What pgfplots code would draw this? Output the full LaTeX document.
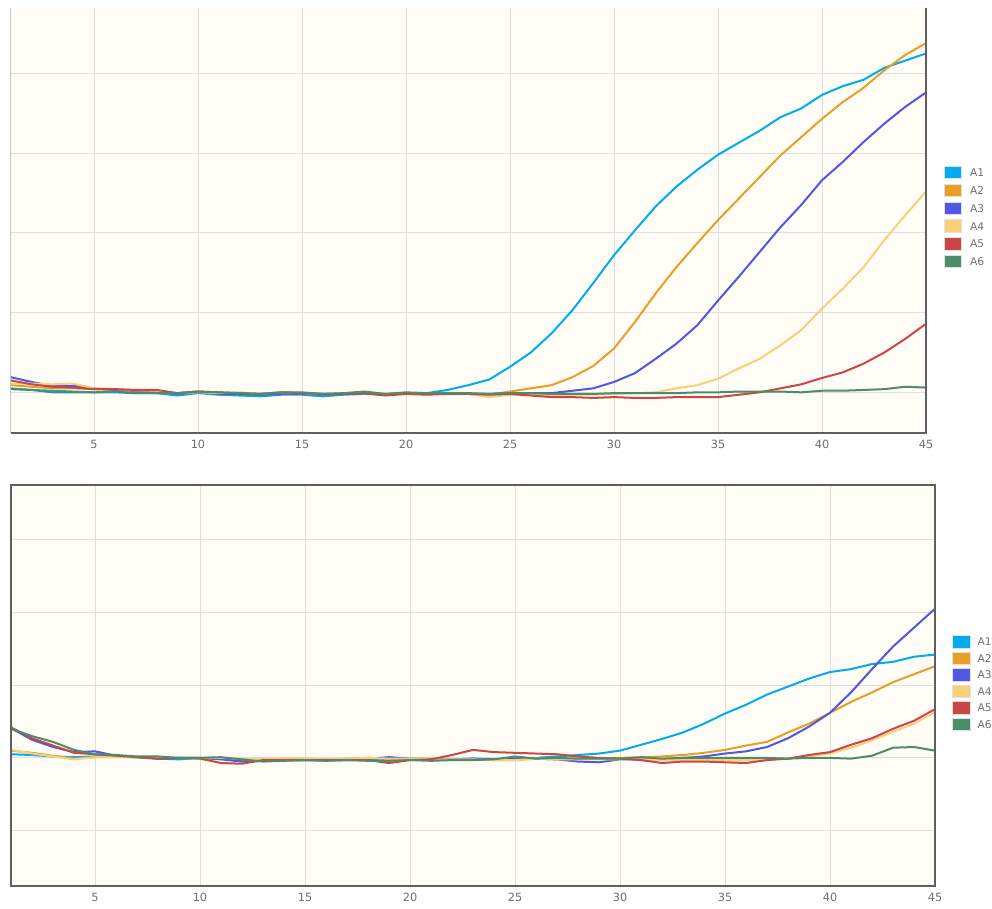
\documentclass[border=0pt]{standalone}
\usepackage{pgfplots}
\usepackage{pgfplotstable}
\pgfplotsset{compat=1.18}
\usepackage{fontspec}
\setmainfont{DejaVu Sans}
\definecolor{cA}{RGB}{0,172,238}
\definecolor{cB}{RGB}{234,158,38}
\definecolor{cC}{RGB}{78,88,226}
\definecolor{cD}{RGB}{251,206,120}
\definecolor{cE}{RGB}{202,70,72}
\definecolor{cF}{RGB}{76,140,102}
\definecolor{bgc}{RGB}{255,253,246}
\definecolor{gridc}{RGB}{222,222,222}
\definecolor{framec}{RGB}{95,95,95}
\definecolor{tickc}{RGB}{110,110,110}
\definecolor{legb}{RGB}{225,225,225}

\pgfplotstableread{
x A1 A2 A3 A4 A5 A6
1 0.05 0.09 0.19 0.11 0.15 0.04
2 0.03 0.07 0.13 0.11 0.10 0.03
3 0.02 0.05 0.08 0.10 0.07 0.00
4 0.01 0.05 0.08 0.11 0.06 0.00
5 0.00 0.04 0.05 0.05 0.04 0.00
6 0.00 0.03 0.03 0.04 0.04 0.01
7 -0.01 0.02 0.02 0.03 0.03 -0.01
8 -0.01 0.02 0.02 0.02 0.03 -0.01
9 -0.04 -0.01 -0.02 -0.01 -0.01 -0.01
10 -0.01 0.01 0.00 0.00 0.01 0.01
11 -0.03 -0.01 -0.02 -0.01 0.00 0.00
12 -0.04 -0.01 -0.02 0.00 -0.01 -0.01
13 -0.05 -0.02 -0.03 -0.02 -0.02 -0.02
14 -0.03 -0.01 -0.02 0.00 0.00 0.00
15 -0.03 -0.01 -0.02 -0.01 -0.01 0.00
16 -0.05 -0.02 -0.03 -0.02 -0.02 -0.02
17 -0.03 -0.02 -0.02 -0.01 -0.02 -0.01
18 -0.02 0.00 -0.01 0.00 -0.01 0.01
19 -0.03 -0.02 -0.03 -0.02 -0.04 -0.02
20 -0.01 -0.01 -0.01 -0.01 -0.02 0.00
21 -0.01 -0.01 -0.02 -0.02 -0.03 -0.01
22 0.03 -0.01 -0.01 -0.01 -0.02 -0.01
23 0.09 -0.02 -0.02 -0.02 -0.02 -0.01
24 0.16 -0.03 -0.02 -0.06 -0.03 -0.02
25 0.32 0.01 -0.01 -0.03 -0.02 -0.01
26 0.50 0.05 -0.01 -0.03 -0.04 -0.01
27 0.74 0.09 -0.01 -0.04 -0.06 -0.02
28 1.03 0.19 0.02 -0.03 -0.06 -0.02
29 1.37 0.33 0.05 -0.03 -0.07 -0.02
30 1.72 0.55 0.13 -0.02 -0.06 -0.01
31 2.03 0.88 0.24 -0.01 -0.07 -0.01
32 2.33 1.24 0.42 0.00 -0.07 -0.01
33 2.58 1.57 0.61 0.05 -0.06 -0.01
34 2.79 1.87 0.84 0.09 -0.06 0.00
35 2.98 2.16 1.15 0.17 -0.06 0.00
36 3.13 2.43 1.45 0.30 -0.03 0.01
37 3.28 2.70 1.76 0.42 0.00 0.01
38 3.45 2.97 2.07 0.59 0.05 0.01
39 3.56 3.20 2.35 0.78 0.10 0.00
40 3.73 3.43 2.66 1.05 0.18 0.02
41 3.84 3.64 2.89 1.30 0.25 0.02
42 3.92 3.82 3.14 1.57 0.36 0.03
43 4.07 4.04 3.37 1.91 0.50 0.04
44 4.16 4.23 3.58 2.22 0.67 0.07
45 4.25 4.38 3.76 2.52 0.86 0.06
}\topdata

\pgfplotstableread{
x A1 A2 A3 A4 A5 A6
1 0.05 0.10 0.41 0.11 0.42 0.40
2 0.04 0.07 0.25 0.06 0.27 0.30
3 0.02 0.03 0.15 0.02 0.17 0.22
4 0.01 -0.01 0.08 -0.02 0.07 0.11
5 0.02 0.01 0.09 0.01 0.05 0.05
6 0.02 0.01 0.03 0.01 0.03 0.04
7 0.01 0.01 0.01 0.01 0.01 0.02
8 -0.01 0.00 -0.01 0.00 -0.01 0.02
9 -0.02 0.00 0.00 0.00 0.00 0.00
10 0.00 0.00 0.00 0.00 -0.01 0.00
11 0.00 0.00 -0.02 0.00 -0.07 0.01
12 -0.03 -0.02 -0.05 -0.01 -0.08 -0.02
13 -0.04 -0.02 -0.04 -0.02 -0.03 -0.05
14 -0.03 -0.01 -0.03 -0.01 -0.03 -0.04
15 -0.03 -0.01 -0.03 -0.01 -0.03 -0.03
16 -0.03 -0.02 -0.03 -0.02 -0.03 -0.04
17 -0.03 -0.01 -0.02 -0.01 -0.03 -0.03
18 -0.02 0.00 -0.01 0.00 -0.03 -0.04
19 -0.02 -0.01 0.01 -0.01 -0.07 -0.04
20 -0.02 -0.01 -0.01 -0.01 -0.03 -0.03
21 -0.02 -0.01 -0.02 -0.02 -0.02 -0.04
22 -0.02 -0.02 -0.02 -0.02 0.04 -0.03
23 -0.01 -0.02 -0.01 -0.02 0.11 -0.03
24 -0.02 -0.03 -0.02 -0.03 0.08 -0.02
25 -0.01 -0.03 -0.01 -0.03 0.07 0.02
26 0.00 -0.01 -0.01 -0.01 0.06 -0.01
27 0.02 -0.02 -0.02 -0.02 0.05 0.00
28 0.04 -0.02 -0.05 -0.02 0.02 -0.01
29 0.06 -0.01 -0.06 -0.02 0.00 -0.01
30 0.10 0.00 -0.02 -0.02 -0.01 -0.01
31 0.18 0.01 -0.02 -0.02 -0.03 0.01
32 0.26 0.02 -0.02 -0.03 -0.07 -0.01
33 0.35 0.04 0.00 -0.03 -0.05 0.00
34 0.47 0.07 0.02 -0.03 -0.05 0.00
35 0.61 0.11 0.06 -0.03 -0.06 0.00
36 0.73 0.17 0.09 -0.03 -0.07 0.00
37 0.87 0.22 0.15 -0.02 -0.03 0.00
38 0.98 0.35 0.27 -0.01 -0.01 -0.01
39 1.09 0.47 0.43 0.02 0.04 0.00
40 1.18 0.62 0.62 0.06 0.08 0.00
41 1.22 0.77 0.90 0.14 0.18 -0.01
42 1.29 0.90 1.22 0.24 0.27 0.03
43 1.32 1.04 1.53 0.36 0.40 0.14
44 1.39 1.15 1.79 0.47 0.51 0.15
45 1.42 1.26 2.05 0.63 0.67 0.10
}\botdata

\pgfplotsset{
 rt/.style={
  scale only axis, xmin=1, xmax=45, xtick={5,10,...,45},
  major tick length=0pt,
  xmajorgrids, ymajorgrids,
  grid style={line width=0.7pt, draw=gridc},
  axis background/.style={fill=bgc},
  axis line style={draw=none},
  ticklabel style={font=\fontsize{8.5}{10}\selectfont, text=tickc},
  xticklabel style={yshift=-2pt},
  /pgf/number format/assume math mode=true,
  yticklabels={},
  legend cell align=left,
  legend image code/.code={\draw[##1, fill, draw=legb, line width=0.6pt] (0pt,-4.6pt) rectangle (13.2pt,4.6pt);},
  every axis plot/.append style={line width=1.5pt, line join=round, mark=none},
  clip=true,
 }
}

\begin{document}
\begin{tikzpicture}
\path[use as bounding box] (0,0) rectangle (744pt,681pt);
% top panel
\begin{axis}[rt,
  at={(8.1pt,356.25pt)}, anchor=south west,
  width=686.4pt, height=318.75pt,
  ymin=-0.51, ymax=4.82, ytick={0,1,2,3,4},
  legend style={at={(axis description cs:1,0.508)}, anchor=west, xshift=13pt,
    draw=none, fill=none, inner sep=0pt, row sep=3.6pt,
    font=\fontsize{8}{9}\selectfont, text=tickc,
    nodes={inner sep=0pt, text height=6pt, text depth=0pt},
    /tikz/every odd column/.style={column sep=6pt}},
  legend entries={A1,A2,A3,A4,A5,A6},
  after end axis/.code={
    \draw[gridc!70!black!60, line width=0.8pt] (rel axis cs:0,0) -- (rel axis cs:0,1);
    \draw[framec, line width=1.5pt] (rel axis cs:0,0) -- (rel axis cs:1,0) -- (rel axis cs:1,1);
  }
]
\addplot[color=cA] table[x=x,y=A1] {\topdata};
\addplot[color=cB] table[x=x,y=A2] {\topdata};
\addplot[color=cC] table[x=x,y=A3] {\topdata};
\addplot[color=cD] table[x=x,y=A4] {\topdata};
\addplot[color=cE] table[x=x,y=A5] {\topdata};
\addplot[color=cF] table[x=x,y=A6] {\topdata};
\end{axis}
% bottom panel
\begin{axis}[rt,
  at={(8.25pt,16.5pt)}, anchor=south west,
  width=693pt, height=300.75pt,
  ymin=-1.76, ymax=3.75, ytick={-1,0,1,2,3},
  legend style={at={(axis description cs:1,0.506)}, anchor=west, xshift=12.5pt,
    draw=none, fill=none, inner sep=0pt, row sep=2.6pt,
    font=\fontsize{8}{9}\selectfont, text=tickc,
    nodes={inner sep=0pt, text height=6pt, text depth=0pt},
    /tikz/every odd column/.style={column sep=5.5pt}},
  legend entries={A1,A2,A3,A4,A5,A6},
  after end axis/.code={
    \draw[framec, line width=1.5pt] (rel axis cs:0,0) rectangle (rel axis cs:1,1);
  }
]
\addplot[color=cA] table[x=x,y=A1] {\botdata};
\addplot[color=cB] table[x=x,y=A2] {\botdata};
\addplot[color=cC] table[x=x,y=A3] {\botdata};
\addplot[color=cD] table[x=x,y=A4] {\botdata};
\addplot[color=cE] table[x=x,y=A5] {\botdata};
\addplot[color=cF] table[x=x,y=A6] {\botdata};
\end{axis}
\end{tikzpicture}
\end{document}
